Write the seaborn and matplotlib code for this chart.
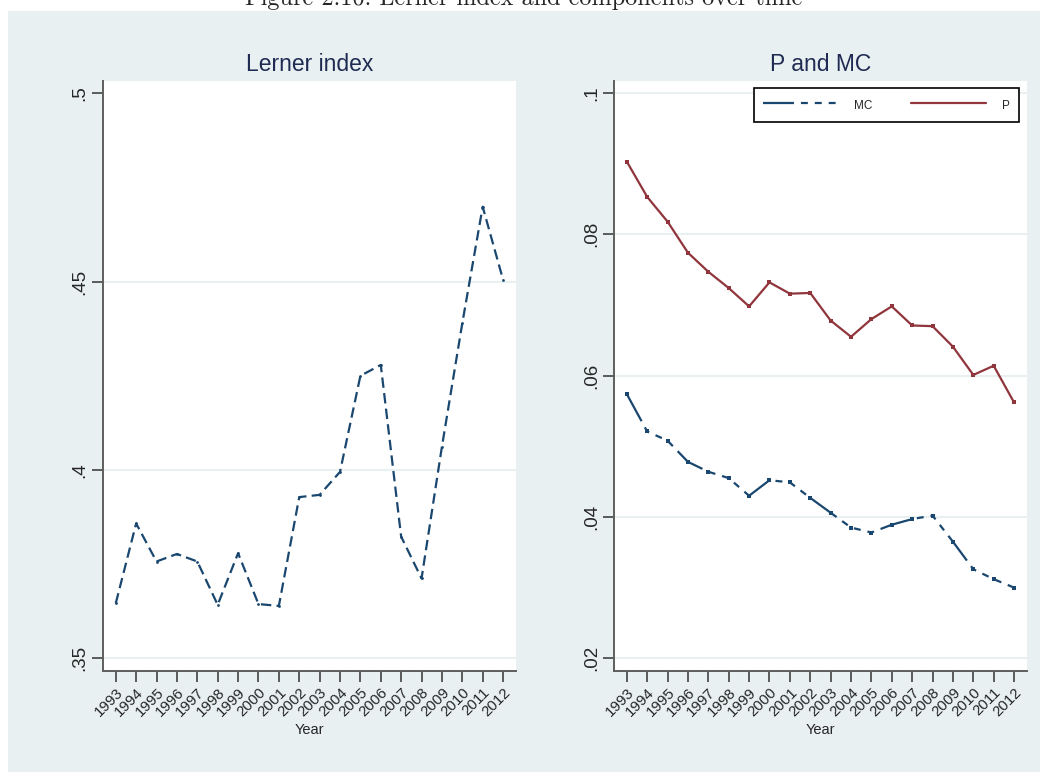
"""
Lerner index and its components (P, MC) over time, Stata s2color look
"""

import matplotlib
matplotlib.use('Agg')
import matplotlib.pyplot as plt
from matplotlib.lines import Line2D
from matplotlib.patches import Rectangle
import seaborn as sns
import pandas as pd

# ============ data ============

years = list(range(1993, 2013))

lerner = [0.3646, 0.3858, 0.3757, 0.3777, 0.3757, 0.3642, 0.3779, 0.3644, 0.3639, 0.3928,
          0.3934, 0.3995, 0.4250, 0.4279, 0.3823, 0.3712, 0.4062, 0.4390, 0.4699, 0.4505]

price = [0.0903, 0.0853, 0.0818, 0.0774, 0.0747, 0.0724, 0.0698, 0.0732, 0.0716, 0.0717,
         0.0678, 0.0655, 0.0680, 0.0698, 0.0671, 0.0670, 0.0641, 0.0601, 0.0614, 0.0562]

mc = [0.0574, 0.0521, 0.0508, 0.0478, 0.0464, 0.0455, 0.0430, 0.0452, 0.0449, 0.0427,
      0.0406, 0.0385, 0.0378, 0.0389, 0.0397, 0.0402, 0.0365, 0.0326, 0.0312, 0.0300]

lerner_ticks = [0.35, 0.40, 0.45, 0.50]
lerner_ticklabels = ['.35', '.4', '.45', '.5']
pmc_ticks = [0.02, 0.04, 0.06, 0.08, 0.10]
pmc_ticklabels = ['.02', '.04', '.06', '.08', '.1']

caption = 'Figure 2.10: Lerner index and components over time'

# ============ style ============

sns.set_theme(style='ticks')
plt.rcParams['font.family'] = ['Liberation Sans', 'DejaVu Sans']
plt.rcParams['lines.scale_dashes'] = False

NAVY = '#1a476f'
MAROON = '#90353b'
BLUISH = '#e8f0f2'
TITLE_C = '#1f2b52'

MC_DASH = (0, (22.3, 5, 5, 5, 5, 5, 5, 5))
LERNER_DASH = (0, (7.5, 3.8))

df = pd.DataFrame({'Year': years, 'lerner': lerner, 'P': price, 'MC': mc})

fig = plt.figure(figsize=(10.48, 7.72), dpi=100)
# graph region (light bluish gray), caption sits above it and is cut by the page edge
fig.add_artist(Rectangle((8 / 1048, 0), 1032 / 1048, 1 - 11 / 772,
                         transform=fig.transFigure, facecolor=BLUISH,
                         edgecolor='none', zorder=-10))
fig.text(0.5, 1 - 5 / 772, caption, family='cmr10', fontsize=17.5,
         ha='center', va='baseline')

ax1 = fig.add_axes([0.0986, 0.1312, 0.3935, 0.7639])
ax2 = fig.add_axes([0.5862, 0.1312, 0.3935, 0.7639])


def style_axes(ax, title, ticks, ticklabels, ylim):
    ax.set_facecolor('white')
    ax.set_xlim(1992.39, 2012.62)
    ax.set_ylim(*ylim)
    ax.set_xticks(years)
    ax.set_xticklabels([str(y) for y in years], fontsize=10.8)
    plt.setp(ax.get_xticklabels(), rotation=45, ha='right', rotation_mode='anchor')
    ax.set_yticks(ticks)
    ax.set_yticklabels(ticklabels, fontsize=13.5, rotation=90, va='center')
    ax.grid(axis='y', color=BLUISH, linewidth=1.5)
    ax.grid(axis='x', visible=False)
    ax.set_axisbelow(True)
    for side in ['top', 'right']:
        ax.spines[side].set_visible(False)
    for side in ['left', 'bottom']:
        ax.spines[side].set_color('#5e5e5e')
        ax.spines[side].set_linewidth(1.4)
    ax.tick_params(axis='both', direction='out', length=8, width=1.1, color='#333333')
    ax.tick_params(axis='y', pad=2.5)
    ax.tick_params(axis='x', pad=2.5)
    ax.set_xlabel('Year', fontsize=10.5, labelpad=3)
    ax.set_ylabel('')
    ax.set_title(title, fontsize=16.5, color=TITLE_C, pad=7.5)


# ============ Lerner index ============

sns.lineplot(data=df, x='Year', y='lerner', ax=ax1, color=NAVY, linewidth=1.6,
             linestyle=LERNER_DASH, marker='o', markersize=2, markeredgewidth=0)
style_axes(ax1, 'Lerner index', lerner_ticks, lerner_ticklabels, (0.3467, 0.5033))
ax1.get_ygridlines()[-1].set_visible(False)

# ============ P and MC ============

sns.lineplot(data=df, x='Year', y='MC', ax=ax2, color=NAVY, linewidth=1.6,
             linestyle=MC_DASH, marker='s', markersize=2.2, markeredgewidth=0)
sns.lineplot(data=df, x='Year', y='P', ax=ax2, color=MAROON, linewidth=1.6,
             marker='s', markersize=2.4, markeredgewidth=0)
style_axes(ax2, 'P and MC', pmc_ticks, pmc_ticklabels, (0.01824, 0.1017))

handles = [Line2D([], [], color=NAVY, linewidth=1.6, linestyle=MC_DASH),
           Line2D([], [], color=MAROON, linewidth=1.6)]
leg = ax2.legend(handles, ['MC', 'P'], ncol=2, fontsize=8.5,
                 loc='upper right', bbox_to_anchor=(1019 / 1048, 1 - 88 / 772),
                 bbox_transform=fig.transFigure, borderaxespad=0,
                 handlelength=6.35, handletextpad=1.36, columnspacing=3.3,
                 borderpad=0.76, handleheight=1.67,
                 fancybox=False, framealpha=1, edgecolor='black')
leg.get_frame().set_linewidth(1.2)

fig.savefig('out.png', dpi=100)
